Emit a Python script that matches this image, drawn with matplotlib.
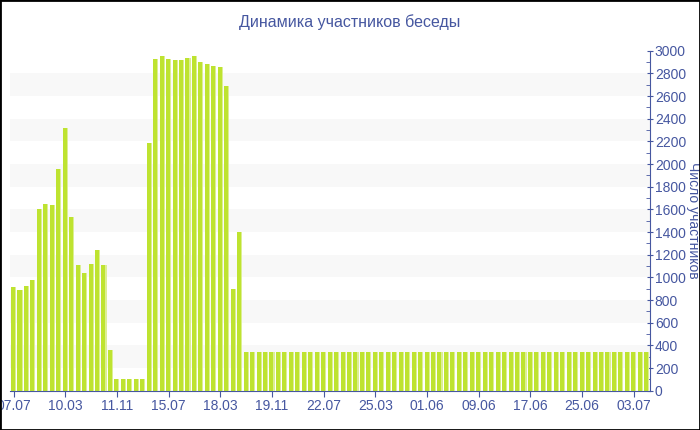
import matplotlib
matplotlib.use("Agg")
import matplotlib.pyplot as plt
from matplotlib.ticker import MultipleLocator

# ---- data ----
participants = [
    915, 890, 925, 975, 1605, 1645, 1635, 1960, 2315, 1535,
    1105, 1035, 1115, 1245, 1110, 360, 100, 100, 100, 100,
    100, 2190, 2930, 2950, 2925, 2920, 2915, 2940, 2955, 2900,
    2880, 2865, 2855, 2685, 895, 1400, 345, 345, 345, 345,
    345, 345, 345, 345, 345, 345, 345, 345, 345, 345,
    345, 345, 345, 345, 345, 345, 345, 345, 345, 345,
    345, 345, 345, 345, 345, 345, 345, 345, 345, 345,
    345, 345, 345, 345, 345, 345, 345, 345, 345, 345,
    345, 345, 345, 345, 345, 345, 345, 345, 345, 345,
    345, 345, 345, 345, 345, 345, 345, 345, 345,
]
tick_labels = ["07.07", "10.03", "11.11", "15.07", "18.03", "19.11", "22.07",
               "25.03", "01.06", "09.06", "17.06", "25.06", "03.07"]
tick_step = 8
title = "Динамика участников беседы"
y_label = "Число участников"

# ---- style ----
blue = "#4657a0"
green = "#bee330"
green_light = "#dcef93"
band = "#f8f8f8"
plt.rcParams["font.family"] = ["Liberation Sans", "DejaVu Sans"]

fig = plt.figure(figsize=(7, 4.3), dpi=100)
ax = fig.add_axes([10 / 700, 39.3 / 430, 640 / 700, 340 / 430])

n = len(participants)
x = list(range(n))

# alternating bands
for lo in range(200, 3000, 400):
    ax.axhspan(lo, lo + 200, color=band, zorder=0, lw=0)

ax.bar(x, participants, width=0.78, color=green, zorder=2, lw=0)
ax.bar([i + 0.31 for i in x], participants, width=0.16, color=green_light,
       zorder=3, lw=0)

ax.set_xlim(-0.55, n - 0.5)
ax.set_ylim(0, 3000)

ax.set_xticks(list(range(0, tick_step * len(tick_labels), tick_step)))
ax.set_xticklabels(tick_labels)

ax.yaxis.tick_right()
ax.yaxis.set_label_position("right")
ax.yaxis.set_major_locator(MultipleLocator(200))
ax.yaxis.set_minor_locator(MultipleLocator(100))
ax.tick_params(axis="y", which="major", direction="inout", length=5,
               color=blue, labelcolor=blue, labelsize=10, pad=1)
ax.tick_params(axis="y", which="minor", direction="in", length=3, color=blue)
ax.tick_params(axis="x", which="major", direction="out", length=4,
               color=blue, labelcolor=blue, labelsize=10, pad=2)

for s in ["top", "left"]:
    ax.spines[s].set_visible(False)
ax.spines["bottom"].set_color(blue)
ax.spines["right"].set_color(blue)
ax.set_facecolor("white")

ax.set_ylabel(y_label, rotation=270, color=blue, fontsize=10, labelpad=10)
fig.text(0.5, 1 - 22 / 430, title, ha="center", va="center", color=blue,
         fontsize=11.5)

# outer border
fig.patches.append(plt.Rectangle((0, 0), 1, 1, transform=fig.transFigure,
                                 fill=False, edgecolor="black", lw=2))

fig.savefig("out.png", dpi=100)
